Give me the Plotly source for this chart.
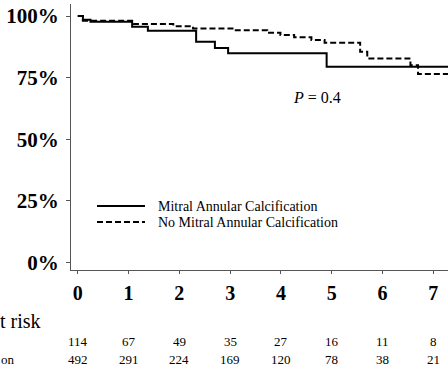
import plotly.graph_objects as go

# ---- data ----
years = [0, 1, 2, 3, 4, 5, 6, 7]
year_labels = ["0", "1", "2", "3", "4", "5", "6", "7"]
y_ticks = [0, 0.25, 0.5, 0.75, 1.0]
y_labels = ["0%", "25%", "50%", "75%", "100%"]

mac_t = [0, 0.1, 0.25, 1.07, 1.38, 2.33, 2.70, 2.96, 4.90, 7.5]
mac_s = [1.0, 0.985, 0.977, 0.957, 0.940, 0.896, 0.871, 0.849, 0.794, 0.794]

nomac_t = [0, 0.1, 1.1, 1.88, 2.27, 3.07, 3.73, 3.99, 4.26, 4.6, 4.86, 5.56, 5.7, 6.55, 6.7, 7.5]
nomac_s = [1.0, 0.981, 0.968, 0.959, 0.950, 0.943, 0.932, 0.923, 0.914, 0.903, 0.892, 0.855, 0.828, 0.801, 0.765, 0.765]

risk_mac = [114, 67, 49, 35, 27, 16, 11, 8]
risk_nomac = [492, 291, 224, 169, 120, 78, 38, 21]

legend_names = ["Mitral Annular Calcification", "No Mitral Annular Calcification"]
p_text = "<i>P</i> = 0.4"
risk_title = "t risk"
row2_label = "on"

SERIF = "Liberation Serif"

# plot area geometry (pixels)
L, T, B = 71, 4, 100
W, H = 448, 370
PW, PH = W - L, H - T - B


def px_x(px):
    return (px - L) / PW


def px_y(py):
    return (H - B - py) / PH


fig = go.Figure()
fig.add_trace(go.Scatter(x=mac_t, y=mac_s, mode="lines", line_shape="hv",
                         line=dict(color="black", width=2), name=legend_names[0],
                         showlegend=False))
fig.add_trace(go.Scatter(x=nomac_t, y=nomac_s, mode="lines", line_shape="hv",
                         line=dict(color="black", width=2, dash="6px,3px"),
                         name=legend_names[1], showlegend=False))

# legend drawn manually
for i, (name, dash) in enumerate(zip(legend_names, ["solid", "6px,3px"])):
    py = 206 + i * 16
    fig.add_shape(type="line", xref="paper", yref="paper",
                  x0=px_x(97), x1=px_x(145), y0=px_y(py), y1=px_y(py),
                  line=dict(color="black", width=2, dash=dash))
    fig.add_annotation(xref="paper", yref="paper", x=px_x(156), y=px_y(py),
                       text=name, showarrow=False, xanchor="left", yanchor="middle",
                       font=dict(family=SERIF, size=14, color="black"))

fig.add_annotation(x=4.71, y=0.671, text=p_text, showarrow=False,
                   font=dict(family=SERIF, size=16, color="black"))

# risk table
fig.add_annotation(xref="paper", yref="paper", x=px_x(-1), y=px_y(359), text=row2_label,
                   showarrow=False, xanchor="left", yanchor="middle",
                   font=dict(family=SERIF, size=13, color="black"))
for yr, a, b in zip(years, risk_mac, risk_nomac):
    fig.add_annotation(x=yr, y=px_y(341), yref="paper", text=str(a), showarrow=False,
                       yanchor="middle", font=dict(family=SERIF, size=13, color="black"))
    fig.add_annotation(x=yr, y=px_y(359), yref="paper", text=str(b), showarrow=False,
                       yanchor="middle", font=dict(family=SERIF, size=13, color="black"))

fig.update_layout(
    width=W, height=H,
    margin=dict(l=L, r=0, t=T, b=B, pad=0),
    plot_bgcolor="white", paper_bgcolor="white",
    showlegend=False,
    title=dict(text=risk_title, xref="container", yref="container",
               x=0, xanchor="left", y=1 - 321 / H, yanchor="middle",
               pad=dict(l=0, r=0, t=0, b=0),
               font=dict(family=SERIF, size=20, color="black")),
)
fig.update_xaxes(range=[-0.134, 7.29], tickvals=years, ticktext=year_labels,
                 automargin=False,
                 showgrid=False, zeroline=False, showline=True, linecolor="#555",
                 linewidth=1, ticks="outside", ticklen=3, tickcolor="#555",
                 ticklabelstandoff=2,
                 tickfont=dict(family=SERIF, size=20, color="black", weight="bold"))
fig.update_yaxes(range=[-0.03, 1.049], tickvals=y_ticks, ticktext=y_labels,
                 automargin=False,
                 showgrid=False, zeroline=False, showline=True, linecolor="#555",
                 linewidth=1, ticks="outside", ticklen=4, tickcolor="#555",
                 ticklabelstandoff=3,
                 tickfont=dict(family=SERIF, size=21, color="black", weight="bold"))

fig.write_html("out.html", config={"displayModeBar": False},
               post_script="document.body.style.margin='0';document.body.style.overflow='hidden';")
